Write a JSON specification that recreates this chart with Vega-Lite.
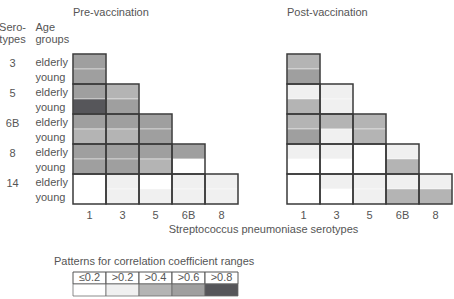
{
  "$schema": "https://vega.github.io/schema/vega-lite/v6.json",
  "padding": {"left": -2, "top": 7, "right": 2, "bottom": 2},
  "bounds": "flush",
  "columns": 2,
  "spacing": {"row": 68, "column": 49},
  "config": {
    "font": "Liberation Sans",
    "view": {"stroke": null},
    "axis": {"domain": false, "ticks": false, "tickSize": 0, "grid": false, "labelFont": "Liberation Sans", "labelFontSize": 11, "labelColor": "#555555", "titleFont": "Liberation Sans", "titleFontSize": 11, "titleFontWeight": "normal", "titleColor": "#555555"},
    "title": {"font": "Liberation Sans", "fontSize": 11, "fontWeight": "normal", "color": "#555555", "anchor": "start", "frame": "group"}
  },
  "datasets": {
    "cells": [
      {"phase": "pre", "serotype": "3", "age": "elderly", "row": "3 elderly", "col": "1", "level": ">0.6"},
      {"phase": "pre", "serotype": "3", "age": "young", "row": "3 young", "col": "1", "level": ">0.6"},
      {"phase": "pre", "serotype": "5", "age": "elderly", "row": "5 elderly", "col": "1", "level": ">0.6"},
      {"phase": "pre", "serotype": "5", "age": "young", "row": "5 young", "col": "1", "level": ">0.8"},
      {"phase": "pre", "serotype": "5", "age": "elderly", "row": "5 elderly", "col": "3", "level": ">0.4"},
      {"phase": "pre", "serotype": "5", "age": "young", "row": "5 young", "col": "3", "level": ">0.6"},
      {"phase": "pre", "serotype": "6B", "age": "elderly", "row": "6B elderly", "col": "1", "level": ">0.6"},
      {"phase": "pre", "serotype": "6B", "age": "young", "row": "6B young", "col": "1", "level": ">0.4"},
      {"phase": "pre", "serotype": "6B", "age": "elderly", "row": "6B elderly", "col": "3", "level": ">0.6"},
      {"phase": "pre", "serotype": "6B", "age": "young", "row": "6B young", "col": "3", "level": ">0.4"},
      {"phase": "pre", "serotype": "6B", "age": "elderly", "row": "6B elderly", "col": "5", "level": ">0.6"},
      {"phase": "pre", "serotype": "6B", "age": "young", "row": "6B young", "col": "5", "level": ">0.6"},
      {"phase": "pre", "serotype": "8", "age": "elderly", "row": "8 elderly", "col": "1", "level": ">0.6"},
      {"phase": "pre", "serotype": "8", "age": "young", "row": "8 young", "col": "1", "level": ">0.6"},
      {"phase": "pre", "serotype": "8", "age": "elderly", "row": "8 elderly", "col": "3", "level": ">0.6"},
      {"phase": "pre", "serotype": "8", "age": "young", "row": "8 young", "col": "3", "level": ">0.6"},
      {"phase": "pre", "serotype": "8", "age": "elderly", "row": "8 elderly", "col": "5", "level": ">0.6"},
      {"phase": "pre", "serotype": "8", "age": "young", "row": "8 young", "col": "5", "level": ">0.4"},
      {"phase": "pre", "serotype": "8", "age": "elderly", "row": "8 elderly", "col": "6B", "level": ">0.6"},
      {"phase": "pre", "serotype": "8", "age": "young", "row": "8 young", "col": "6B", "level": "≤0.2"},
      {"phase": "pre", "serotype": "14", "age": "elderly", "row": "14 elderly", "col": "1", "level": "≤0.2"},
      {"phase": "pre", "serotype": "14", "age": "young", "row": "14 young", "col": "1", "level": "≤0.2"},
      {"phase": "pre", "serotype": "14", "age": "elderly", "row": "14 elderly", "col": "3", "level": ">0.2"},
      {"phase": "pre", "serotype": "14", "age": "young", "row": "14 young", "col": "3", "level": ">0.2"},
      {"phase": "pre", "serotype": "14", "age": "elderly", "row": "14 elderly", "col": "5", "level": "≤0.2"},
      {"phase": "pre", "serotype": "14", "age": "young", "row": "14 young", "col": "5", "level": ">0.2"},
      {"phase": "pre", "serotype": "14", "age": "elderly", "row": "14 elderly", "col": "6B", "level": ">0.2"},
      {"phase": "pre", "serotype": "14", "age": "young", "row": "14 young", "col": "6B", "level": ">0.2"},
      {"phase": "pre", "serotype": "14", "age": "elderly", "row": "14 elderly", "col": "8", "level": ">0.2"},
      {"phase": "pre", "serotype": "14", "age": "young", "row": "14 young", "col": "8", "level": ">0.2"},
      {"phase": "post", "serotype": "3", "age": "elderly", "row": "3 elderly", "col": "1", "level": ">0.4"},
      {"phase": "post", "serotype": "3", "age": "young", "row": "3 young", "col": "1", "level": ">0.6"},
      {"phase": "post", "serotype": "5", "age": "elderly", "row": "5 elderly", "col": "1", "level": ">0.2"},
      {"phase": "post", "serotype": "5", "age": "young", "row": "5 young", "col": "1", "level": ">0.4"},
      {"phase": "post", "serotype": "5", "age": "elderly", "row": "5 elderly", "col": "3", "level": ">0.2"},
      {"phase": "post", "serotype": "5", "age": "young", "row": "5 young", "col": "3", "level": ">0.2"},
      {"phase": "post", "serotype": "6B", "age": "elderly", "row": "6B elderly", "col": "1", "level": ">0.4"},
      {"phase": "post", "serotype": "6B", "age": "young", "row": "6B young", "col": "1", "level": ">0.6"},
      {"phase": "post", "serotype": "6B", "age": "elderly", "row": "6B elderly", "col": "3", "level": ">0.4"},
      {"phase": "post", "serotype": "6B", "age": "young", "row": "6B young", "col": "3", "level": ">0.2"},
      {"phase": "post", "serotype": "6B", "age": "elderly", "row": "6B elderly", "col": "5", "level": ">0.4"},
      {"phase": "post", "serotype": "6B", "age": "young", "row": "6B young", "col": "5", "level": ">0.4"},
      {"phase": "post", "serotype": "8", "age": "elderly", "row": "8 elderly", "col": "1", "level": ">0.2"},
      {"phase": "post", "serotype": "8", "age": "young", "row": "8 young", "col": "1", "level": "≤0.2"},
      {"phase": "post", "serotype": "8", "age": "elderly", "row": "8 elderly", "col": "3", "level": ">0.2"},
      {"phase": "post", "serotype": "8", "age": "young", "row": "8 young", "col": "3", "level": "≤0.2"},
      {"phase": "post", "serotype": "8", "age": "elderly", "row": "8 elderly", "col": "5", "level": "≤0.2"},
      {"phase": "post", "serotype": "8", "age": "young", "row": "8 young", "col": "5", "level": "≤0.2"},
      {"phase": "post", "serotype": "8", "age": "elderly", "row": "8 elderly", "col": "6B", "level": ">0.2"},
      {"phase": "post", "serotype": "8", "age": "young", "row": "8 young", "col": "6B", "level": ">0.4"},
      {"phase": "post", "serotype": "14", "age": "elderly", "row": "14 elderly", "col": "1", "level": "≤0.2"},
      {"phase": "post", "serotype": "14", "age": "young", "row": "14 young", "col": "1", "level": "≤0.2"},
      {"phase": "post", "serotype": "14", "age": "elderly", "row": "14 elderly", "col": "3", "level": ">0.2"},
      {"phase": "post", "serotype": "14", "age": "young", "row": "14 young", "col": "3", "level": "≤0.2"},
      {"phase": "post", "serotype": "14", "age": "elderly", "row": "14 elderly", "col": "5", "level": ">0.2"},
      {"phase": "post", "serotype": "14", "age": "young", "row": "14 young", "col": "5", "level": ">0.2"},
      {"phase": "post", "serotype": "14", "age": "elderly", "row": "14 elderly", "col": "6B", "level": ">0.2"},
      {"phase": "post", "serotype": "14", "age": "young", "row": "14 young", "col": "6B", "level": ">0.4"},
      {"phase": "post", "serotype": "14", "age": "elderly", "row": "14 elderly", "col": "8", "level": ">0.2"},
      {"phase": "post", "serotype": "14", "age": "young", "row": "14 young", "col": "8", "level": ">0.4"}
    ]
  },
  "concat": [
    {
      "title": {"text": "Pre-vaccination", "offset": 3},
      "width": 165,
      "height": 150,
      "data": {"name": "cells"},
      "transform": [{"filter": "datum.phase === 'pre'"}],
      "layer": [
        {
          "mark": {"type": "rect", "stroke": "#ffffff", "strokeOpacity": 0.45, "strokeWidth": 1},
          "encoding": {
            "x": {"field": "col", "type": "ordinal", "scale": {"domain": ["1", "3", "5", "6B", "8"], "paddingInner": 0, "paddingOuter": 0},
              "axis": {"labelAngle": 0, "labelPadding": 5, "title": "Streptococcus pneumoniase serotypes", "titleX": 190, "titleAlign": "center", "titlePadding": 3}},
            "y": {"field": "row", "type": "ordinal", "scale": {"domain": ["3 elderly", "3 young", "5 elderly", "5 young", "6B elderly", "6B young", "8 elderly", "8 young", "14 elderly", "14 young"], "paddingInner": 0, "paddingOuter": 0},
              "axis": {"labelAlign": "left", "labelPadding": 38, "labelOffset": 1, "labelExpr": "split(datum.label, ' ')[1]", "title": ["Age", "groups"], "titleAngle": 0, "titleAlign": "left", "titleX": -38, "titleY": -22, "titleBaseline": "bottom", "titleLineHeight": 12}},
            "color": {"field": "level", "type": "ordinal", "scale": {"domain": ["≤0.2", ">0.2", ">0.4", ">0.6", ">0.8"], "range": ["#ffffff", "#f0f0f0", "#b4b4b4", "#9f9f9f", "#56565a"]}, "legend": null}
          }
        },
        {
          "transform": [{"aggregate": [{"op": "count", "as": "n"}], "groupby": ["serotype", "col"]}],
          "mark": {"type": "rect", "filled": false, "stroke": "#3a3a3a", "strokeWidth": 1.5},
          "encoding": {
            "x": {"field": "col", "type": "ordinal"},
            "y": {"field": "serotype", "type": "ordinal", "scale": {"domain": ["3", "5", "6B", "8", "14"], "paddingInner": 0, "paddingOuter": 0},
              "axis": {"orient": "left", "labelAlign": "center", "labelPadding": 61, "labelOffset": -5, "title": ["Sero-", "types"], "titleAngle": 0, "titleAlign": "center", "titleX": -61, "titleY": -22, "titleBaseline": "bottom", "titleLineHeight": 12}}
          }
        }
      ],
      "resolve": {"scale": {"y": "independent"}, "axis": {"y": "independent"}}
    },
    {
      "title": {"text": "Post-vaccination", "offset": 35},
      "width": 165,
      "height": 150,
      "data": {"name": "cells"},
      "transform": [{"filter": "datum.phase === 'post'"}],
      "layer": [
        {
          "mark": {"type": "rect", "stroke": "#ffffff", "strokeOpacity": 0.45, "strokeWidth": 1},
          "encoding": {
            "x": {"field": "col", "type": "ordinal", "scale": {"domain": ["1", "3", "5", "6B", "8"], "paddingInner": 0, "paddingOuter": 0},
              "axis": {"labelAngle": 0, "labelPadding": 5, "title": null}},
            "y": {"field": "row", "type": "ordinal", "scale": {"domain": ["3 elderly", "3 young", "5 elderly", "5 young", "6B elderly", "6B young", "8 elderly", "8 young", "14 elderly", "14 young"], "paddingInner": 0, "paddingOuter": 0}, "axis": null},
            "color": {"field": "level", "type": "ordinal", "legend": null}
          }
        },
        {
          "transform": [{"aggregate": [{"op": "count", "as": "n"}], "groupby": ["serotype", "col"]}],
          "mark": {"type": "rect", "filled": false, "stroke": "#3a3a3a", "strokeWidth": 1.5},
          "encoding": {
            "x": {"field": "col", "type": "ordinal"},
            "y": {"field": "serotype", "type": "ordinal", "scale": {"domain": ["3", "5", "6B", "8", "14"], "paddingInner": 0, "paddingOuter": 0}, "axis": null}
          }
        }
      ],
      "resolve": {"scale": {"y": "independent"}, "axis": {"y": "independent"}}
    },
    {
      "title": {"text": "Patterns for correlation coefficient ranges", "dx": -19, "offset": 5},
      "width": 165,
      "height": 24,
      "data": {"values": [{"range": "≤0.2"}, {"range": ">0.2"}, {"range": ">0.4"}, {"range": ">0.6"}, {"range": ">0.8"}]},
      "encoding": {
        "x": {"field": "range", "type": "ordinal", "scale": {"domain": ["≤0.2", ">0.2", ">0.4", ">0.6", ">0.8"], "paddingInner": 0, "paddingOuter": 0}, "axis": null}
      },
      "layer": [
        {
          "mark": {"type": "rect", "fill": "#ffffff", "stroke": "#555555", "strokeWidth": 1},
          "encoding": {"y": {"datum": "head", "type": "ordinal", "scale": {"domain": ["head", "swatch"], "paddingInner": 0, "paddingOuter": 0}, "axis": null}}
        },
        {
          "mark": {"type": "text", "fontSize": 11, "color": "#555555", "font": "Liberation Sans"},
          "encoding": {"y": {"datum": "head", "type": "ordinal"}, "text": {"field": "range"}}
        },
        {
          "mark": {"type": "rect", "stroke": "#666666", "strokeWidth": 0.75},
          "encoding": {
            "y": {"datum": "swatch", "type": "ordinal"},
            "color": {"field": "range", "type": "ordinal", "legend": null}
          }
        }
      ]
    }
  ]
}
